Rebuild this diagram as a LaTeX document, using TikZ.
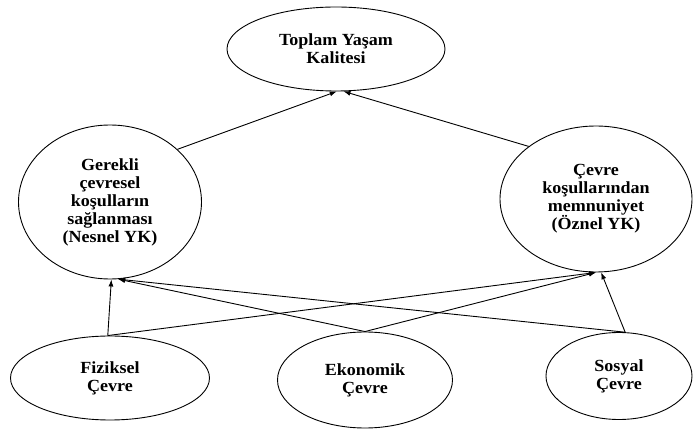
\documentclass[tikz,border=0pt]{standalone}
\usepackage{fontspec}
\setmainfont[FakeStretch=1.06]{Liberation Serif}
\usetikzlibrary{shapes.geometric,arrows.meta}
\begin{document}
\begin{tikzpicture}[x=1pt,y=-1pt,
  ell/.style={ellipse,draw,line width=0.9pt,inner sep=0pt,align=center,
    font=\fontsize{17}{18}\selectfont\bfseries},
  arr/.style={line width=0.9pt,-{Latex[length=7pt,width=5pt]}}]
\useasboundingbox (0,0) rectangle (694,430);
\node[ell,minimum width=218pt,minimum height=84pt] (tyk) at (336,49) {Toplam Yaşam\\Kalitesi};
\node[ell,minimum width=183pt,minimum height=154pt] (ger) at (110,202) {Gerekli\\çevresel\\koşulların\\sağlanması\\(Nesnel YK)};
\node[ell,minimum width=192pt,minimum height=146pt] (cev) at (596,199) {Çevre\\koşullarından\\memnuniyet\\(Öznel YK)};
\node[ell,minimum width=199pt,minimum height=84pt] (fiz) at (110,378) {Fiziksel\\Çevre};
\node[ell,minimum width=175pt,minimum height=96pt] (eko) at (365,380) {Ekonomik\\Çevre};
\node[ell,minimum width=146pt,minimum height=87pt] (sos) at (619,376) {Sosyal\\Çevre};
\draw[arr] (ger.38.5) -- (tyk.-89);
\draw[arr] (cev.142.5) -- (tyk.-80);
\draw[arr] (fiz.93) -- (ger.-89);
\draw[arr] (fiz.93) -- (cev.-90);
\draw[arr] (eko.90) -- (ger.-84);
\draw[arr] (eko.90) -- (cev.-90);
\draw[arr] (sos.82) -- (ger.-84);
\draw[arr] (sos.82) -- (cev.-86);
\end{tikzpicture}
\end{document}
